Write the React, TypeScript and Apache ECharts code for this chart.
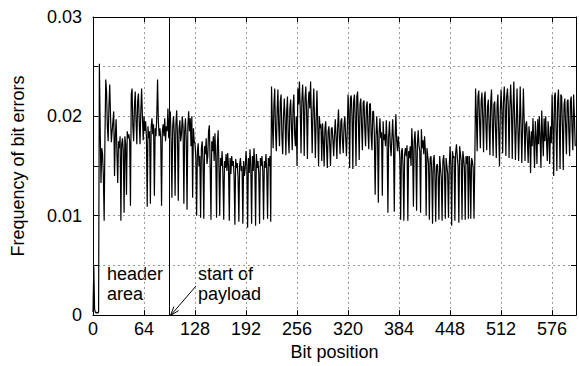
import React, { useEffect, useRef } from 'react';
import * as echarts from 'echarts';

// Tick labels
const xTickValues = [0, 64, 128, 192, 256, 320, 384, 448, 512, 576];
const yTickLabels = ['0', '0.01', '0.02', '0.03'];
const payloadStartBit = 96;

// Frequency of bit errors, in units of 1e-4, one row per byte (8 bits)
const errHeader = [3, 49, 6, 3, 2, 3, 2, 3];
const errSeg1 = [
  253, 190, 133, 168, 162, 140, 95, 180,
  237, 225, 190, 175, 210, 232, 200, 174,
  185, 195, 205, 140, 180, 197, 165, 133,
  175, 168, 180, 95, 172, 178, 165, 103,
  180, 172, 121, 185, 178, 182, 175, 110,
  222, 228, 190, 175, 210, 225, 195, 172,
  215, 223, 195, 172, 205, 228, 200, 176,
  200, 185, 195, 180, 109, 190, 178, 185,
  112, 190, 198, 182, 192, 120, 188, 180,
  200, 237, 195, 180, 188, 178, 110, 185,
  192, 180, 198, 175, 190, 185, 208, 178,
  198, 205, 175, 118, 190, 200, 182, 120,
  192, 206, 180, 115, 188, 196, 175, 182,
  200, 190, 112, 185, 198, 176, 106, 190,
  205, 185, 198, 170, 200, 118, 188, 175,
];
const errSeg2 = [
  172, 158, 100, 165, 173, 150, 160, 98,
  168, 175, 155, 97, 170, 162, 178, 152,
  160, 185, 191, 150, 96, 175, 165, 180,
  155, 183, 160, 98, 170, 186, 150, 100,
  158, 150, 165, 140, 96, 155, 148, 162,
  145, 163, 150, 95, 158, 142, 160, 150,
  155, 140, 91, 157, 148, 153, 138, 94,
  152, 158, 145, 150, 92, 155, 140, 148,
  165, 150, 88, 158, 143, 167, 148, 92,
  160, 145, 168, 150, 90, 162, 148, 155,
  142, 92, 158, 150, 160, 145, 96, 155,
  148, 162, 145, 97, 158, 150, 160, 94,
];
const errSeg3 = [
  230, 195, 168, 212, 228, 185, 165, 205,
  227, 190, 170, 215, 222, 180, 162, 200,
  218, 195, 161, 205, 220, 178, 163, 208,
  217, 188, 166, 210, 222, 182, 170, 200,
  150, 228, 212, 235, 208, 163, 215, 232,
  210, 160, 218, 230, 205, 157, 213, 225,
  208, 235, 200, 163, 206, 228, 195, 158,
  198, 226, 190, 150, 200, 188, 192, 155,
  193, 175, 150, 188, 195, 170, 148, 185,
  190, 172, 150, 187, 189, 176, 160, 182,
  197, 178, 157, 190, 207, 180, 162, 195,
  198, 175, 163, 192, 200, 180, 160, 185,
];
const errSeg4 = [
  222, 205, 148, 218, 221, 200, 147, 215,
  222, 198, 150, 220, 225, 195, 156, 212,
  218, 190, 166, 214, 216, 188, 170, 210,
  215, 185, 167, 212, 213, 180, 166, 205,
  205, 182, 121, 178, 200, 180, 113, 183,
  198, 178, 184, 120, 195, 176, 182, 170,
  196, 175, 103, 180, 195, 172, 160, 178,
  197, 174, 104, 178, 202, 176, 165, 180,
  170, 158, 96, 165, 168, 150, 95, 162,
  168, 160, 171, 95, 165, 158, 170, 150,
  188, 168, 109, 175, 185, 165, 105, 172,
  186, 170, 165, 103, 187, 168, 176, 162,
  180, 165, 100, 168, 160, 152, 96, 158,
  160, 145, 92, 155, 161, 140, 94, 150,
  152, 140, 96, 160, 148, 138, 95, 155,
  161, 145, 97, 158, 150, 142, 98, 150,
  170, 150, 90, 165, 158, 160, 95, 163,
  172, 160, 150, 93, 170, 162, 155, 96,
  165, 158, 148, 96, 160, 152, 160, 97,
  160, 150, 97, 158, 155, 148, 97, 152,
];
const errSeg5 = [
  228, 200, 165, 220, 226, 195, 168, 215,
  224, 198, 164, 218, 225, 190, 166, 210,
  217, 190, 161, 215, 227, 192, 160, 212,
  215, 188, 158, 210, 222, 186, 150, 205,
  227, 205, 163, 215, 230, 210, 160, 220,
  228, 212, 158, 208, 232, 210, 157, 205,
  235, 195, 156, 190, 228, 192, 155, 188,
  230, 193, 153, 190, 228, 195, 155, 192,
  195, 175, 153, 190, 178, 143, 185, 170,
  198, 175, 148, 195, 180, 152, 197, 172,
  200, 178, 148, 206, 182, 160, 198, 175,
  200, 176, 155, 195, 180, 152, 190, 173,
  222, 190, 140, 220, 224, 185, 145, 215,
  227, 195, 147, 222, 220, 188, 146, 212,
  218, 190, 162, 215, 217, 185, 160, 215,
  220, 188, 166, 222, 200, 170,
];

const FONT = 'Liberation Sans';
const FS = 18;

export default function App() {
  const ref = useRef<HTMLDivElement>(null);

  useEffect(() => {
    if (!ref.current) return;
    const chart = echarts.init(ref.current, undefined, { renderer: 'svg' });
    const all = [...errHeader, ...errSeg1, ...errSeg2, ...errSeg3, ...errSeg4, ...errSeg5];
    const data = all.map((v, i) => [i, v / 10000]);
    const axisLineStyle = { color: '#000', width: 1 };
    const gridLine = { show: true, lineStyle: { color: '#9a9a9a', type: [2, 3], width: 1 } };
    const textStyle = { fontFamily: FONT, fontSize: FS, color: '#000' };

    const option: any = {
      animation: false,
      grid: { left: 93, right: 1, top: 17, bottom: 50 },
      xAxis: [
        {
          type: 'value', min: 0, max: 606, interval: 64, position: 'bottom',
          axisLine: { show: true, onZero: false, lineStyle: axisLineStyle },
          axisTick: { show: true, inside: true, length: 5, lineStyle: axisLineStyle },
          axisLabel: {
            ...textStyle, margin: 5,
            formatter: (v: number) => (xTickValues.includes(v) ? String(v) : ''),
          },
          splitLine: gridLine,
          name: 'Bit position', nameLocation: 'middle', nameGap: 25,
          nameTextStyle: textStyle,
        },
        {
          type: 'value', min: 0, max: 606, interval: 64, position: 'top',
          axisLine: { show: true, onZero: false, lineStyle: axisLineStyle },
          axisTick: { show: true, inside: true, length: 5, lineStyle: axisLineStyle },
          axisLabel: { show: false },
          splitLine: { show: false },
        },
      ],
      yAxis: [
        {
          type: 'value', min: 0, max: 0.03, interval: 0.005, position: 'left',
          axisLine: { show: true, onZero: false, lineStyle: axisLineStyle },
          axisTick: { show: true, inside: true, length: 5, lineStyle: axisLineStyle },
          axisLabel: {
            ...textStyle, margin: 11,
            formatter: (v: number) => {
              const k = Math.round(v * 1000);
              return k % 10 === 0 ? yTickLabels[k / 10] : '';
            },
          },
          splitLine: gridLine,
          name: 'Frequency of bit errors', nameLocation: 'middle', nameGap: 66, nameRotate: 90,
          nameTextStyle: textStyle,
        },
        {
          type: 'value', min: 0, max: 0.03, interval: 0.005, position: 'right',
          axisLine: { show: true, onZero: false, lineStyle: axisLineStyle },
          axisTick: { show: true, inside: true, length: 5, lineStyle: axisLineStyle },
          axisLabel: { show: false },
          splitLine: { show: false },
        },
      ],
      series: [
        {
          type: 'line', data, xAxisIndex: 0, yAxisIndex: 0,
          symbol: 'none', showSymbol: false,
          lineStyle: { color: '#000', width: 1.2 },
          z: 3,
          markLine: {
            silent: true, symbol: 'none', label: { show: false },
            lineStyle: { color: '#000', type: 'solid', width: 1 },
            data: [{ xAxis: payloadStartBit }],
          },
        },
      ],
      graphic: [
        { type: 'text', x: 107, y: 265, style: { text: 'header', font: `${FS}px ${FONT}`, fill: '#000', verticalAlign: 'top' } },
        { type: 'text', x: 107, y: 285, style: { text: 'area', font: `${FS}px ${FONT}`, fill: '#000', verticalAlign: 'top' } },
        { type: 'text', x: 198, y: 265, style: { text: 'start of', font: `${FS}px ${FONT}`, fill: '#000', verticalAlign: 'top' } },
        { type: 'text', x: 198, y: 285, style: { text: 'payload', font: `${FS}px ${FONT}`, fill: '#000', verticalAlign: 'top' } },
        { type: 'line', shape: { x1: 196, y1: 286, x2: 170.5, y2: 315.5 }, style: { stroke: '#000', lineWidth: 1 } },
        { type: 'polyline', shape: { points: [[178.6, 310.6], [170.5, 315.5], [173.9, 306.6]] }, style: { stroke: '#000', fill: 'none', lineWidth: 1 } },
      ],
    };
    chart.setOption(option);
    return () => chart.dispose();
  }, []);

  return (
    <div
      ref={ref}
      style={{ position: 'absolute', left: 0, top: 0, width: 579, height: 366, background: '#fff' }}
    />
  );
}
